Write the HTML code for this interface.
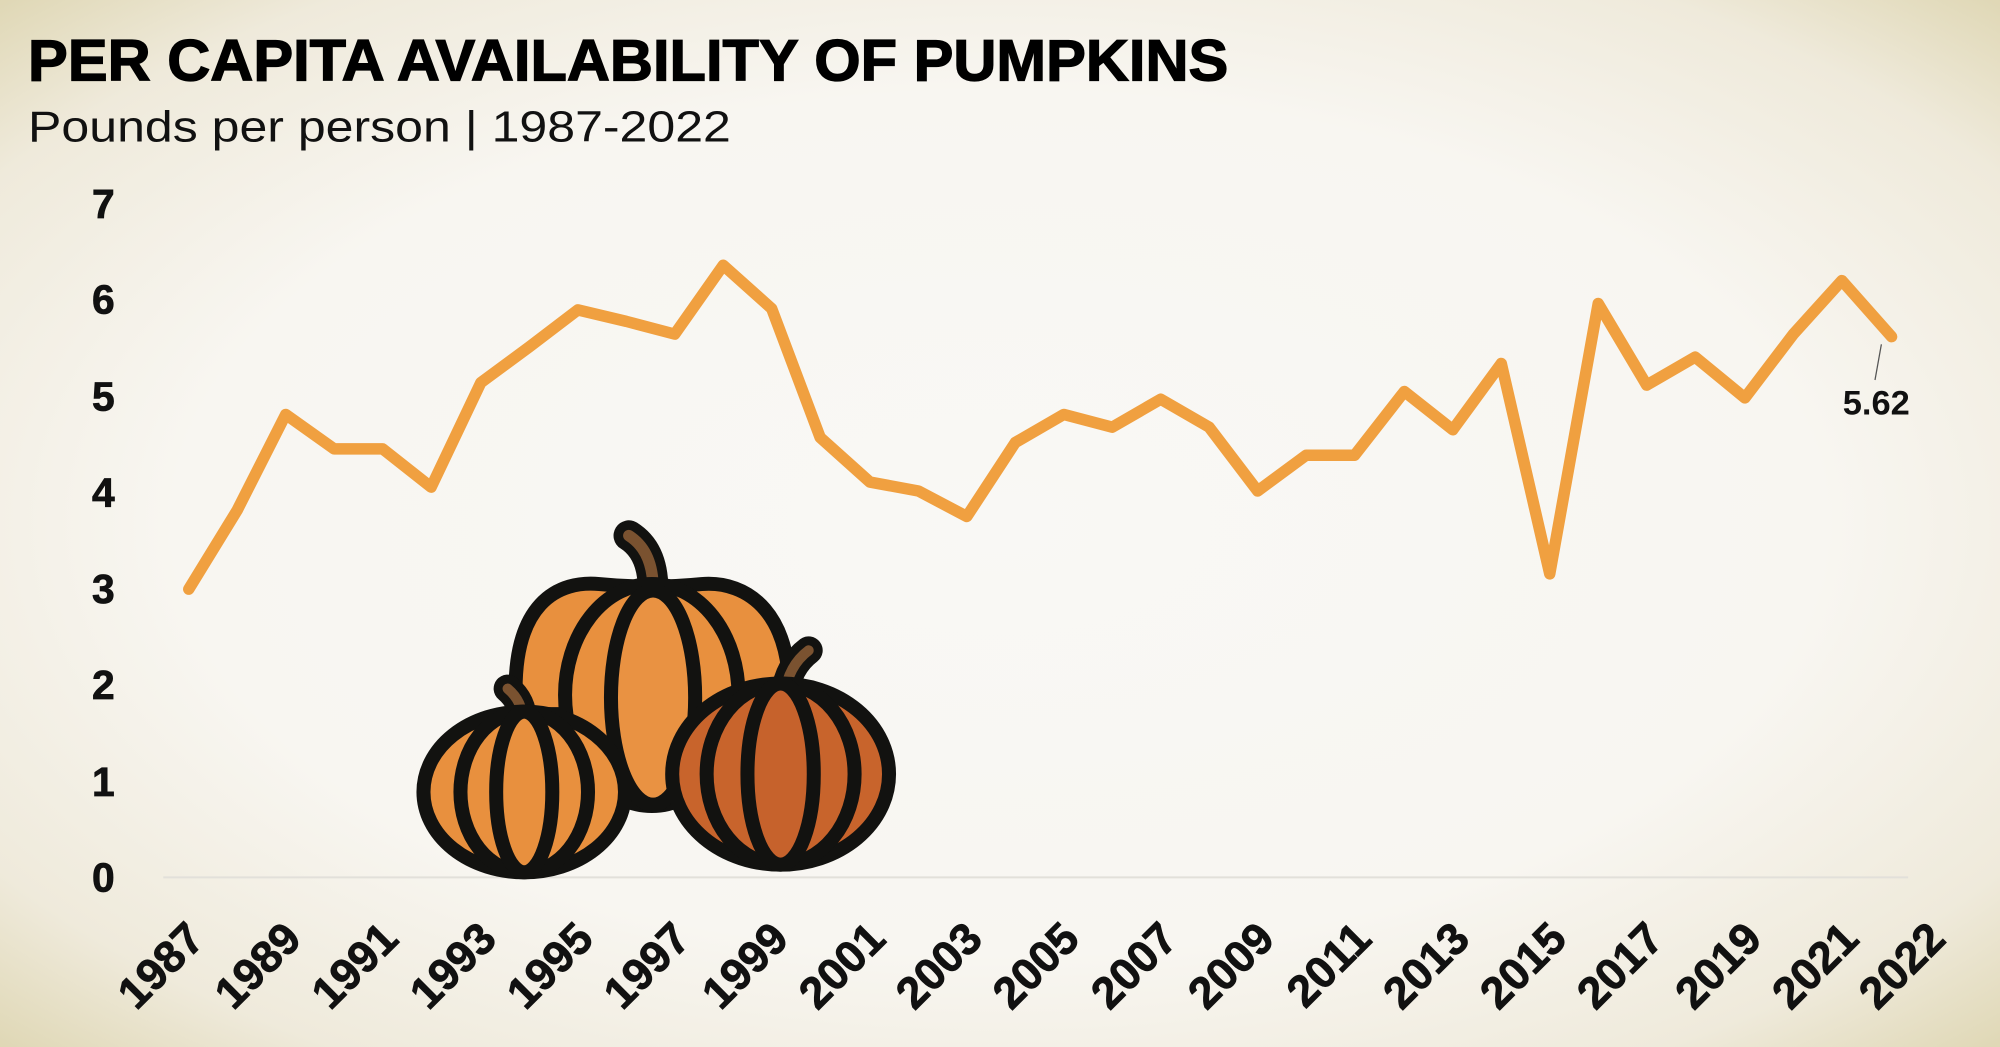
<!DOCTYPE html>
<html><head><meta charset="utf-8"><style>
html,body{margin:0;padding:0;width:2000px;height:1047px;overflow:hidden}
svg{display:block}
</style></head><body>
<svg width="2000" height="1047" viewBox="0 0 1568 821" preserveAspectRatio="none" xmlns="http://www.w3.org/2000/svg">
<defs>
<radialGradient id="bg" cx="50%" cy="50%" r="75%">
<stop offset="0%" stop-color="#f9f8f5"/>
<stop offset="55%" stop-color="#f8f6f1"/>
<stop offset="80%" stop-color="#efeadb"/>
<stop offset="100%" stop-color="#d9d0a6"/>
</radialGradient>
</defs>
<rect width="1568" height="821" fill="url(#bg)"/>
<g font-family="Liberation Sans, sans-serif">
<text x="22" y="63" font-size="46" font-weight="bold" textLength="941" lengthAdjust="spacingAndGlyphs" fill="#000" stroke="#000" stroke-width="1">PER CAPITA AVAILABILITY OF PUMPKINS</text>
<text x="22" y="111" font-size="34" fill="#111" textLength="551" lengthAdjust="spacingAndGlyphs">Pounds per person | 1987-2022</text>
<g font-size="32" font-weight="bold" text-anchor="middle" fill="#111" stroke="#111" stroke-width="0.6">
<text x="81" y="699">0</text><text x="81" y="624">1</text><text x="81" y="548">2</text><text x="81" y="473">3</text><text x="81" y="397">4</text><text x="81" y="322">5</text><text x="81" y="246">6</text><text x="81" y="171">7</text>
</g>
<line x1="128" y1="688" x2="1496" y2="688" stroke="#e2e0da" stroke-width="1.5"/>
<g font-size="35" font-weight="bold" fill="#111" text-anchor="end" stroke="#111" stroke-width="0.6">
<text transform="translate(162,738) rotate(-45)">1987</text>
<text transform="translate(238,738) rotate(-45)">1989</text>
<text transform="translate(314,738) rotate(-45)">1991</text>
<text transform="translate(391,738) rotate(-45)">1993</text>
<text transform="translate(467,738) rotate(-45)">1995</text>
<text transform="translate(543,738) rotate(-45)">1997</text>
<text transform="translate(620,738) rotate(-45)">1999</text>
<text transform="translate(696,738) rotate(-45)">2001</text>
<text transform="translate(772,738) rotate(-45)">2003</text>
<text transform="translate(848,738) rotate(-45)">2005</text>
<text transform="translate(925,738) rotate(-45)">2007</text>
<text transform="translate(1001,738) rotate(-45)">2009</text>
<text transform="translate(1077,738) rotate(-45)">2011</text>
<text transform="translate(1154,738) rotate(-45)">2013</text>
<text transform="translate(1230,738) rotate(-45)">2015</text>
<text transform="translate(1306,738) rotate(-45)">2017</text>
<text transform="translate(1383,738) rotate(-45)">2019</text>
<text transform="translate(1459,738) rotate(-45)">2021</text>
<text transform="translate(1527,738) rotate(-45)">2022</text>
</g>
<polyline fill="none" stroke="#f0a040" stroke-width="9" stroke-linejoin="round" stroke-linecap="round" points="148,462 186,400 224,325 262,352 300,352 338,382 377,300 415,272 453,243 491,252 529,262 567,208 605,242 643,343 682,378 720,385 758,405 796,347 834,325 872,335 910,313 948,335 986,385 1024,357 1062,357 1101,307 1139,337 1177,285 1215,450 1253,238 1291,302 1329,280 1368,312 1406,262 1444,220 1483,264"/>
<line x1="1475" y1="270" x2="1470" y2="298" stroke="#555" stroke-width="1"/>
<text x="1471" y="325" font-size="27" font-weight="bold" text-anchor="middle" fill="#111">5.62</text>
</g>
<g stroke="#121210" stroke-width="11" stroke-linejoin="round">
<path d="M493,420 Q512,432 512,462" fill="none" stroke-width="24" stroke-linecap="round"/>
<path d="M493,420 Q512,432 512,462" fill="none" stroke="#7a5230" stroke-width="9" stroke-linecap="round"/>
<path d="M405,560 C398,470 440,455 470,458 Q510,462 550,458 C585,455 625,480 618,560 Z" fill="#e8903e"/>
<ellipse cx="511" cy="545" rx="68" ry="87" fill="#e8903e"/>
<ellipse cx="512" cy="547" rx="33" ry="84" fill="#e99242"/>
<path d="M398,540 Q410,550 410,566" fill="none" stroke-width="22" stroke-linecap="round"/>
<path d="M398,540 Q410,550 410,566" fill="none" stroke="#7a5230" stroke-width="8" stroke-linecap="round"/>
<ellipse cx="411" cy="621" rx="79" ry="63" fill="#e8903e"/>
<ellipse cx="411" cy="621" rx="50" ry="63" fill="#e8903e"/>
<ellipse cx="411" cy="621" rx="22" ry="63" fill="#e8903e"/>
<path d="M634,510 Q618,522 615,545" fill="none" stroke-width="22" stroke-linecap="round"/>
<path d="M634,510 Q618,522 615,545" fill="none" stroke="#7a5230" stroke-width="8" stroke-linecap="round"/>
<ellipse cx="612" cy="607" rx="85" ry="71" fill="#c8642c"/>
<ellipse cx="612" cy="607" rx="58" ry="71" fill="#c8642c"/>
<ellipse cx="612" cy="607" rx="26" ry="71" fill="#c6622c"/>
</g>
</svg>
</body></html>
